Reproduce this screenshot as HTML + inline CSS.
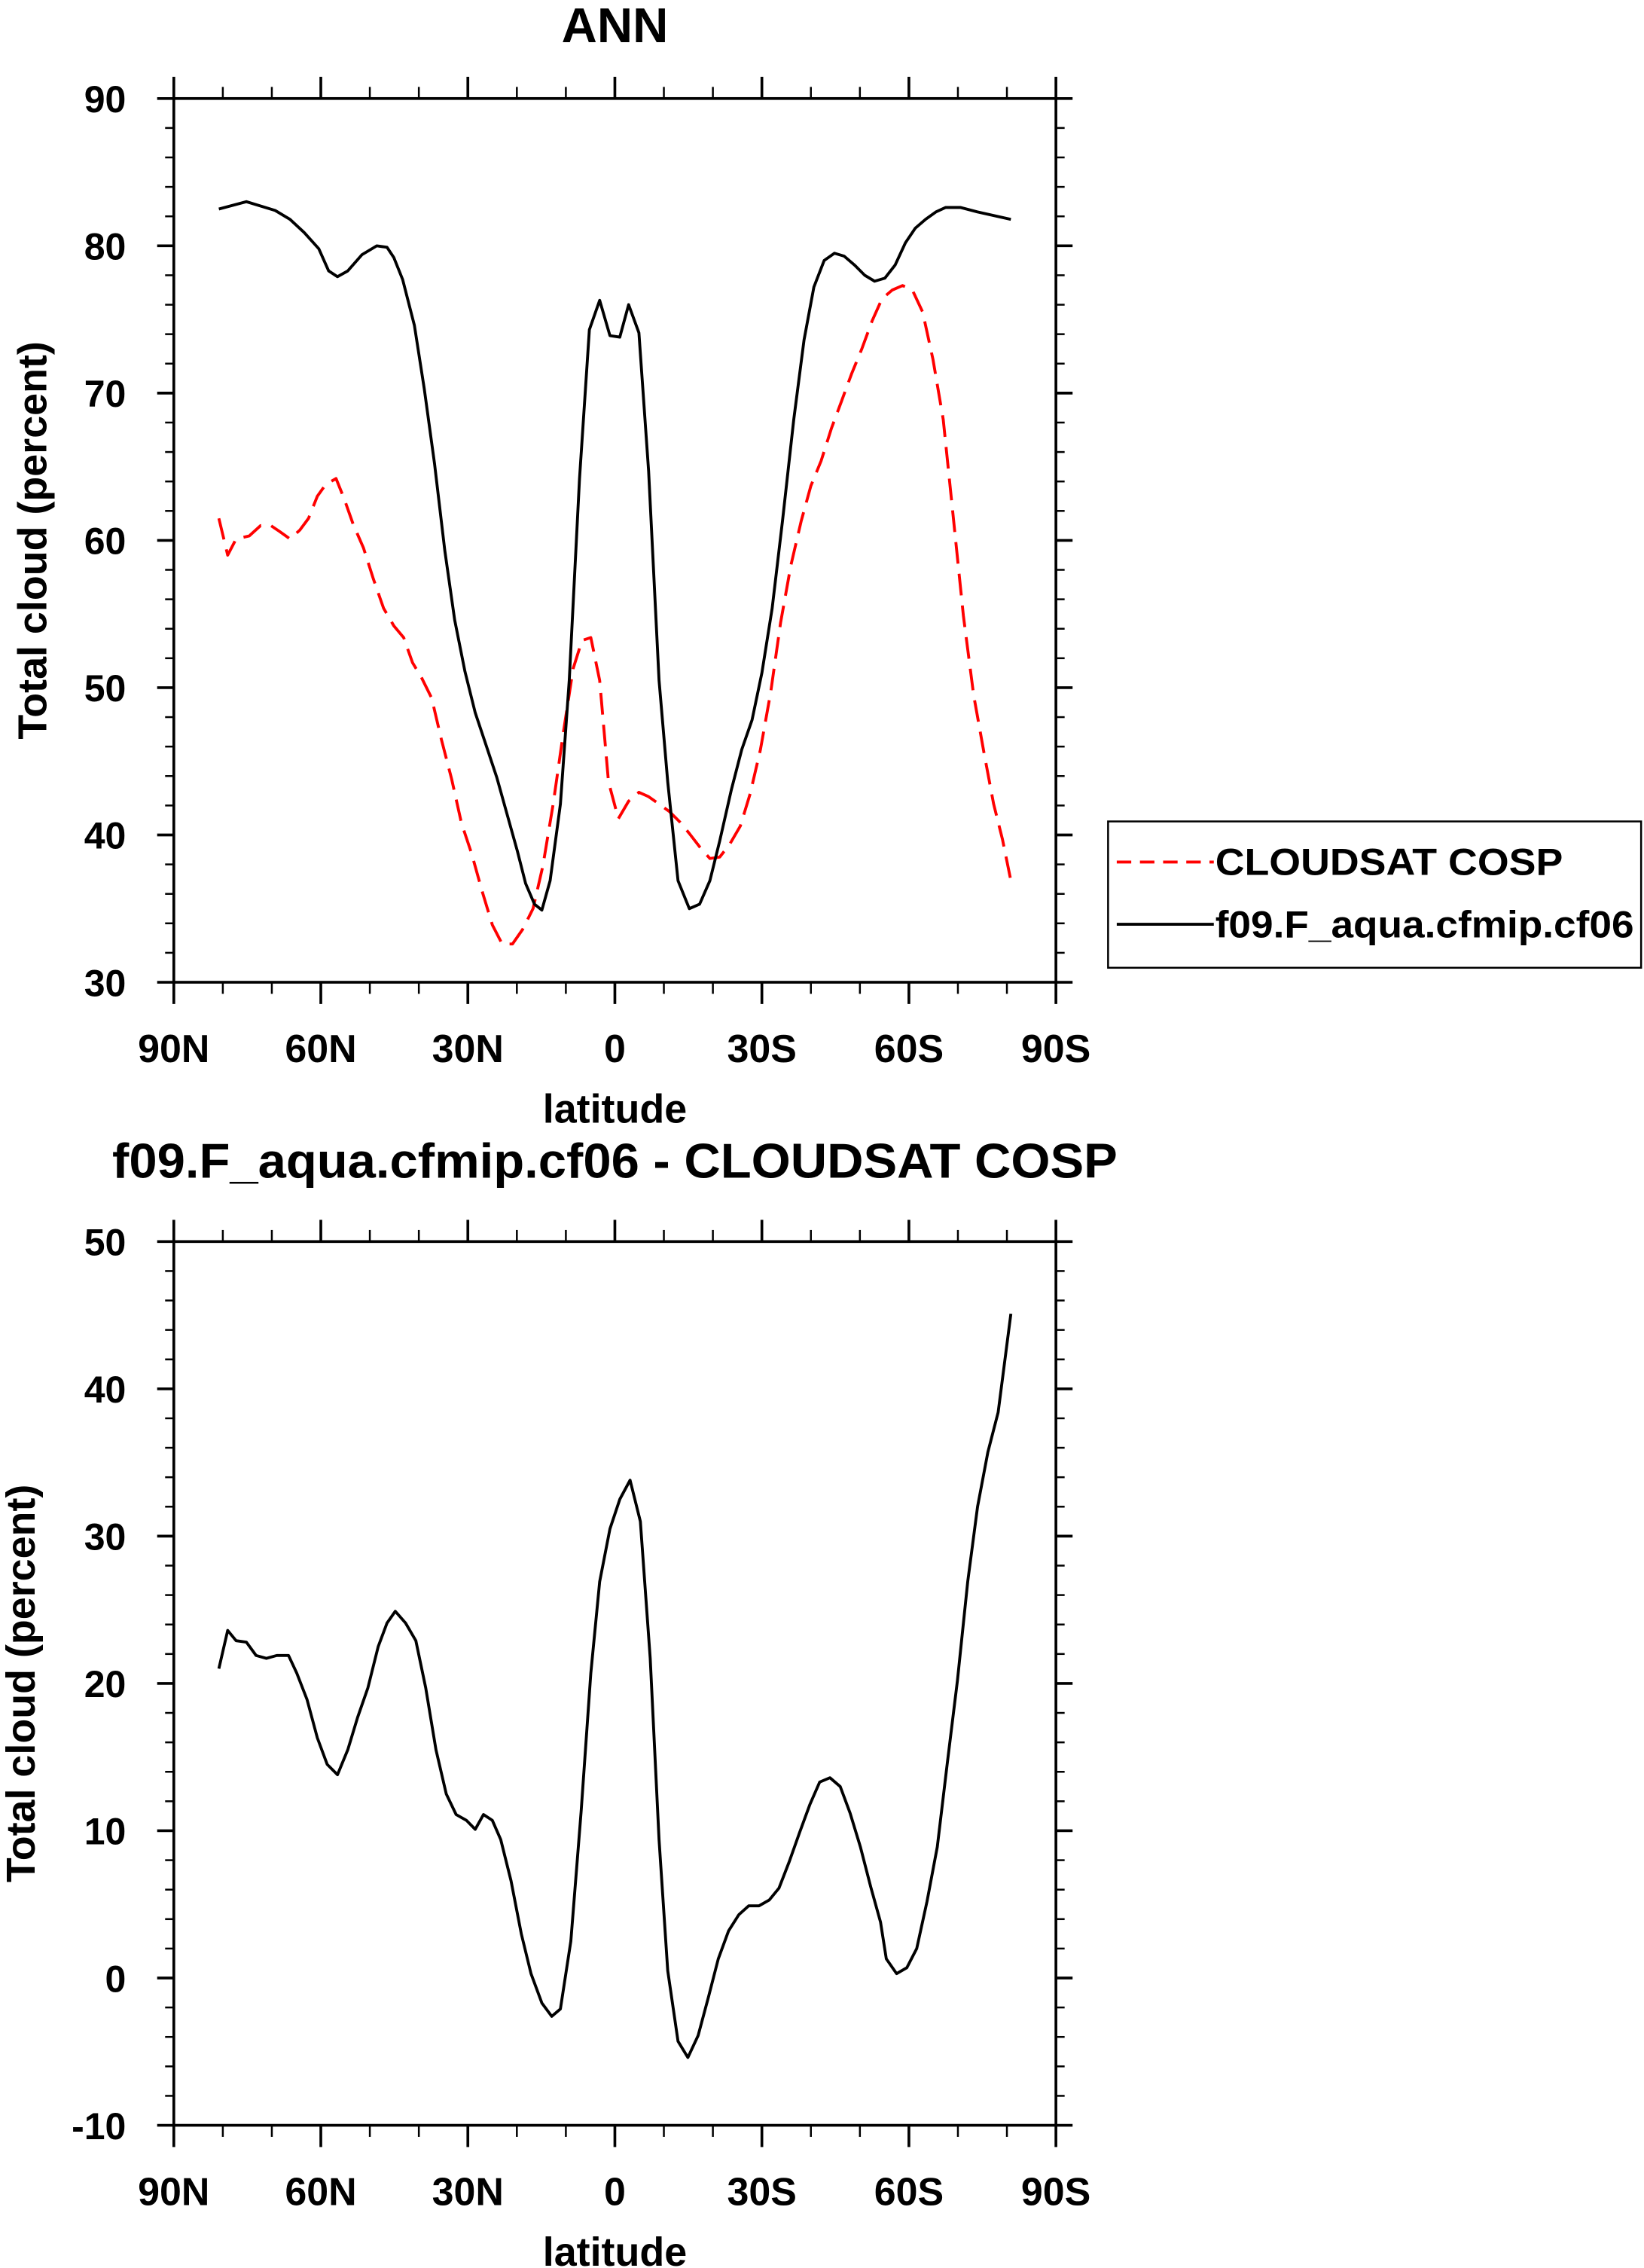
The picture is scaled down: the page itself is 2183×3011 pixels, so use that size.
<!DOCTYPE html>
<html><head><meta charset="utf-8"><style>
html,body{margin:0;padding:0;background:#fff;}
svg{display:block;}
text{font-family:"Liberation Sans",Arial,sans-serif;font-weight:bold;fill:#000;}
</style></head><body>
<svg id="chart" width="2183" height="3011" viewBox="0 0 1135 1565.5" preserveAspectRatio="none" xmlns="http://www.w3.org/2000/svg"></svg>
<script>
// x: latitude in degrees, negative = north (left), positive = south (right)
const latTicks = [-90, -60, -30, 0, 30, 60, 90];
const latTickLabels = ["90N", "60N", "30N", "0", "30S", "60S", "90S"];
const topYTicks = [30, 40, 50, 60, 70, 80, 90];
const botYTicks = [-10, 0, 10, 20, 30, 40, 50];

const modelLat = [-80.8,-75.2,-69.3,-66.3,-63.4,-60.4,-58.4,-56.6,-54.5,-51.6,-48.6,-46.5,-45.1,-43.3,-40.9,-38.9,-36.8,-34.7,-32.7,-30.6,-28.5,-26.2,-24.1,-22.0,-19.9,-18.2,-16.4,-14.9,-13.2,-11.1,-9.3,-7.2,-5.2,-3.1,-1.0,1.0,2.8,4.9,6.9,9.0,10.8,12.9,15.2,17.3,19.4,21.4,23.8,25.9,28.0,30.0,32.1,34.2,36.5,38.6,40.6,42.7,44.8,46.8,48.9,51.0,53.0,55.1,57.2,59.3,61.3,63.4,65.5,67.5,70.5,74.0,80.8];
const modelVal = [82.5,83.0,82.4,81.8,80.9,79.8,78.3,77.9,78.3,79.4,80.0,79.9,79.2,77.7,74.6,70.3,65.2,59.3,54.6,51.1,48.3,46.0,43.9,41.4,38.9,36.7,35.3,34.9,36.9,42.1,50.5,64.2,74.3,76.3,73.9,73.8,76.0,74.1,64.7,50.5,43.6,36.9,35.0,35.3,36.9,39.6,43.1,45.8,47.8,51.0,55.4,61.3,68.2,73.6,77.2,79.0,79.5,79.3,78.7,78.0,77.6,77.8,78.7,80.2,81.2,81.8,82.3,82.6,82.6,82.3,81.8];

const obsLat = [-80.8,-79.0,-77.3,-74.6,-72.3,-70.2,-68.4,-66.3,-64.3,-62.5,-60.7,-59.0,-56.9,-55.2,-53.4,-51.3,-49.3,-47.2,-45.1,-43.1,-41.3,-39.5,-37.4,-35.4,-33.3,-31.3,-29.2,-27.1,-25.0,-23.0,-20.9,-18.8,-16.7,-14.7,-12.6,-10.5,-8.5,-6.7,-4.9,-3.1,-1.3,0.7,2.8,4.9,6.9,9.0,11.1,13.2,15.2,17.3,19.4,21.4,23.5,25.6,27.6,29.7,31.8,33.8,35.9,38.0,40.0,42.1,44.2,46.2,48.3,50.4,52.5,54.5,56.6,58.7,60.7,62.8,64.9,67.0,69.0,71.1,73.2,75.3,77.3,79.1,80.8];
const obsVal = [61.5,59.0,60.1,60.3,61.0,61.0,60.6,60.1,60.7,61.5,63.0,63.8,64.2,62.8,61.1,59.5,57.4,55.4,54.2,53.4,51.7,50.7,49.3,46.5,43.8,40.8,38.7,36.2,33.9,32.6,32.6,33.6,35.0,37.9,42.1,47.0,51.3,53.2,53.4,50.5,43.6,41.1,42.3,42.9,42.6,42.1,41.6,40.9,40.1,39.2,38.4,38.5,39.4,40.6,42.8,45.8,49.7,54.4,58.3,61.3,63.7,65.4,67.6,69.4,71.3,73.0,74.9,76.4,77.0,77.3,77.0,75.5,72.3,68.2,61.8,54.9,49.5,45.6,42.1,39.7,36.9];

const diffLat = [-80.8,-79.0,-77.3,-75.2,-73.2,-71.1,-69.0,-66.6,-64.9,-62.8,-60.7,-58.7,-56.6,-54.5,-52.5,-50.4,-48.3,-46.5,-44.8,-42.7,-40.6,-38.6,-36.5,-34.4,-32.4,-30.3,-28.5,-26.8,-25.0,-23.3,-21.2,-19.1,-17.1,-14.9,-12.9,-11.1,-9.0,-6.9,-4.9,-3.1,-1.0,1.0,3.1,5.2,7.2,9.0,10.8,12.9,14.9,17.0,19.1,21.1,23.2,25.3,27.3,29.4,31.5,33.5,35.6,37.7,39.8,41.8,43.9,46.0,48.0,50.1,52.2,54.2,55.4,57.5,59.6,61.6,63.7,65.8,67.8,69.9,72.0,74.0,76.1,78.2,80.8];
const diffVal = [21.0,23.6,22.9,22.8,21.9,21.7,21.9,21.9,20.7,18.9,16.3,14.5,13.8,15.5,17.7,19.7,22.5,24.1,24.9,24.1,22.9,19.7,15.5,12.5,11.1,10.7,10.1,11.1,10.7,9.4,6.6,3.0,0.3,-1.7,-2.6,-2.1,2.5,11.3,20.7,26.9,30.5,32.5,33.8,31.0,21.7,9.4,0.5,-4.3,-5.4,-3.9,-1.3,1.3,3.2,4.3,4.9,4.9,5.3,6.1,7.9,9.9,11.8,13.3,13.6,13.0,11.2,8.9,6.2,3.8,1.3,0.3,0.7,2.0,5.2,8.9,14.5,20.2,26.9,32.0,35.7,38.4,45.1];

const NS = "http://www.w3.org/2000/svg";
const svg = document.getElementById("chart");
function el(tag, attrs, parent) {
  const e = document.createElementNS(NS, tag);
  for (const k in attrs) e.setAttribute(k, attrs[k]);
  (parent || svg).appendChild(e);
  return e;
}
const X0 = 120, X1 = 729;
function xScale(lat) { return X0 + (lat + 90) / 180 * (X1 - X0); }

function panel(name, top, bottom, ymin, ymax, yTicks, series, title, titleX, titleY, titleSize, titleLen, yTitleX) {
  const g = el("g", {});
  
  
  const ys = v => bottom - (v - ymin) / (ymax - ymin) * (bottom - top);
  const tAttrs = {x: titleX, y: titleY, "text-anchor": "middle", "font-size": titleSize};
  if (titleLen) { tAttrs.textLength = titleLen; tAttrs.lengthAdjust = "spacingAndGlyphs"; }
  const t = el("text", tAttrs, g);
  t.textContent = title;
  
  
  const fr = el("rect", {x: X0, y: top, width: X1 - X0, height: bottom - top, fill: "none", stroke: "#000", "stroke-width": 1.9}, g);
  
  
  for (let v = ymin; v <= ymax + 0.001; v += 2) {
    const major = Math.abs((v - ymin) % 10) < 0.01;
    const len = major ? 11.5 : 6;
    const y = ys(v);
    el("line", {x1: X0 - len, x2: X0, y1: y, y2: y, stroke: "#000", "stroke-width": major ? 1.9 : 1.3}, g);
    el("line", {x1: X1, x2: X1 + len, y1: y, y2: y, stroke: "#000", "stroke-width": major ? 1.9 : 1.3}, g);
  }
  yTicks.forEach(v => {
    const lb = el("text", {x: 87, y: ys(v) + 9.5, "text-anchor": "end", "font-size": 26}, g);
    lb.textContent = String(v);
    
    
  });
  for (let lat = -90; lat <= 90; lat += 10) {
    const major = lat % 30 === 0;
    const len = major ? 15 : 8;
    const x = xScale(lat);
    el("line", {x1: x, x2: x, y1: bottom, y2: bottom + len, stroke: "#000", "stroke-width": major ? 1.9 : 1.3}, g);
    el("line", {x1: x, x2: x, y1: top - len, y2: top, stroke: "#000", "stroke-width": major ? 1.9 : 1.3}, g);
  }
  latTicks.forEach((lat, i) => {
    const lb = el("text", {x: xScale(lat), y: bottom + 55, "text-anchor": "middle", "font-size": 27}, g);
    lb.textContent = latTickLabels[i];
    
    
  });
  const xt = el("text", {x: 424.5, y: bottom + 97, "text-anchor": "middle", "font-size": 28}, g);
  xt.textContent = "latitude";
  
  
  const yc = (top + bottom) / 2;
  const yt = el("text", {x: 0, y: 0, "text-anchor": "middle", "font-size": 28, transform: "translate(" + yTitleX + "," + yc + ") rotate(-90)"}, g);
  yt.textContent = "Total cloud (percent)";
  
  
  series.forEach(s => {
    const d = s.lat.map((lat, i) => (i ? "L" : "M") + xScale(lat).toFixed(1) + "," + ys(s.val[i]).toFixed(1)).join(" ");
    const p = el("path", {d: d, fill: "none", stroke: s.color, "stroke-width": 2.0, "stroke-dasharray": s.dash || "none", "stroke-linejoin": "round"}, g);
    
    
  });
}

panel("top-panel", 68, 678, 30, 90, topYTicks, [
  {lat: obsLat, val: obsVal, color: "#ff0000", dash: "15 7", name: "cloudsat-line"},
  {lat: modelLat, val: modelVal, color: "#000", name: "model-line"}
], "ANN", 424.5, 29, 34, 0, 32);

panel("bottom-panel", 857, 1467, -10, 50, botYTicks, [
  {lat: diffLat, val: diffVal, color: "#000", name: "difference-line"}
], "f09.F_aqua.cfmip.cf06 - CLOUDSAT COSP", 424.5, 813, 34, 694, 24);

const lg = el("g", {});


el("rect", {x: 765, y: 567, width: 368, height: 101, fill: "#fff", stroke: "#000", "stroke-width": 1.3}, lg);
el("line", {x1: 771, x2: 838, y1: 595, y2: 595, stroke: "#ff0000", "stroke-width": 2, "stroke-dasharray": "10 6"}, lg);
el("line", {x1: 771, x2: 838, y1: 638, y2: 638, stroke: "#000", "stroke-width": 2}, lg);
const l1 = el("text", {x: 839, y: 604, "font-size": 26, textLength: 240, lengthAdjust: "spacingAndGlyphs"}, lg);
l1.textContent = "CLOUDSAT COSP";


const l2 = el("text", {x: 839, y: 647, "font-size": 26, textLength: 289, lengthAdjust: "spacingAndGlyphs"}, lg);
l2.textContent = "f09.F_aqua.cfmip.cf06";


</script>
</body></html>
